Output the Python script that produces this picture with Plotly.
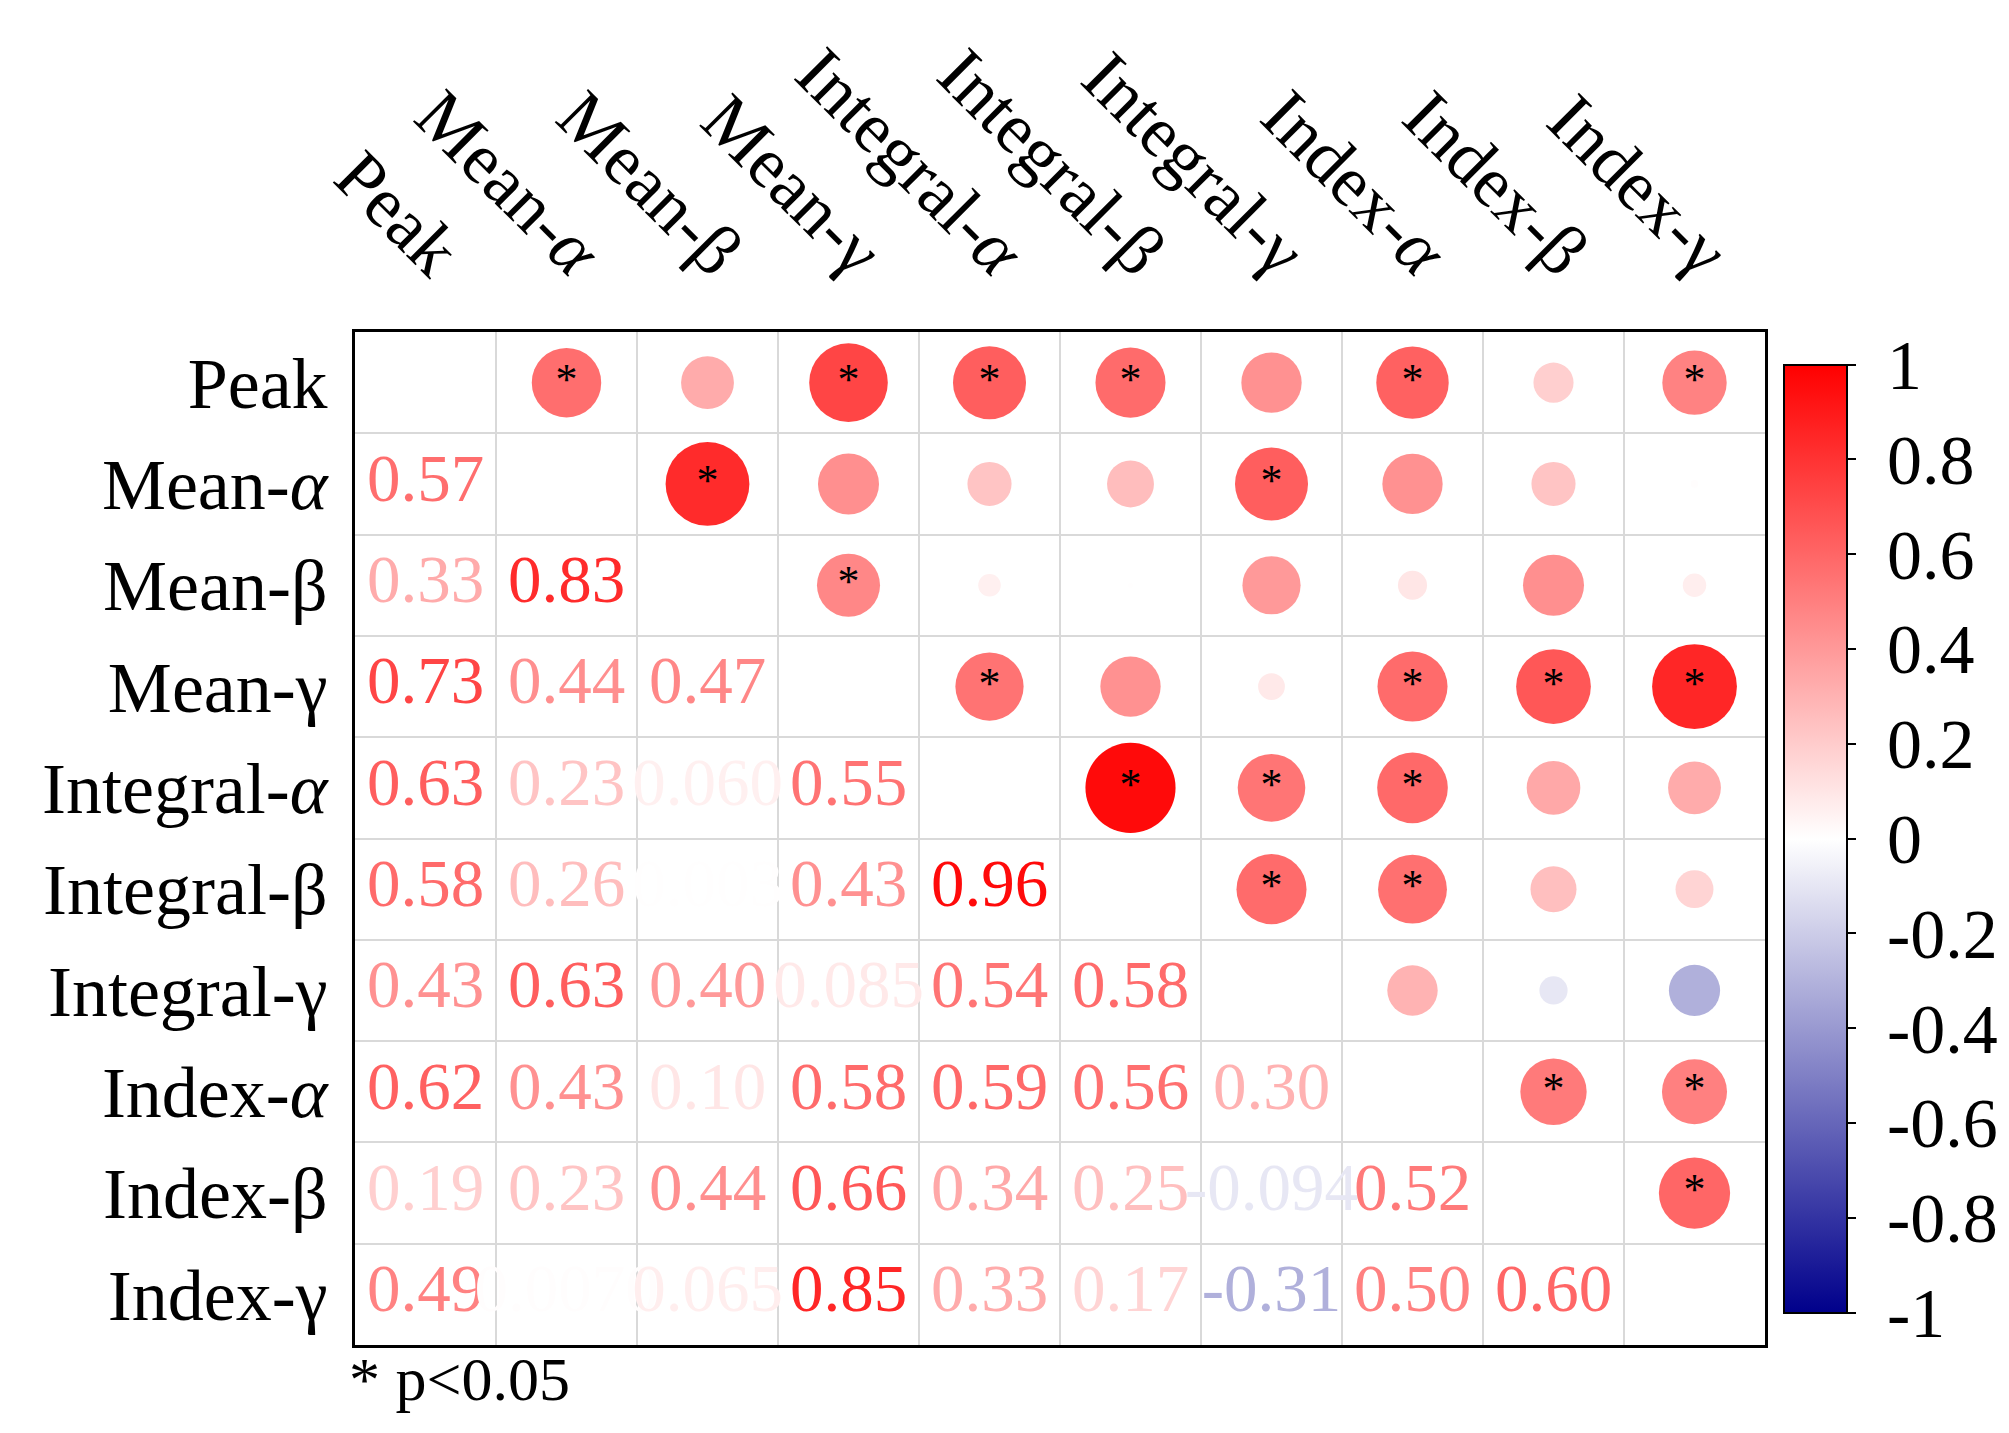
import plotly.graph_objects as go
import numpy as np

# ---------------- data ----------------
labels = ["Peak", "Mean-<i>α</i>", "Mean-β", "Mean-γ", "Integral-<i>α</i>", "Integral-β",
          "Integral-γ", "Index-<i>α</i>", "Index-β", "Index-γ"]

# lower-triangle correlations, row by row (row i has i values for columns 0..i-1)
r_mean_a = [0.57]
r_mean_b = [0.33, 0.83]
r_mean_g = [0.73, 0.44, 0.47]
r_int_a = [0.63, 0.23, 0.060, 0.55]
r_int_b = [0.58, 0.26, 0.003, 0.43, 0.96]
r_int_g = [0.43, 0.63, 0.40, 0.085, 0.54, 0.58]
r_idx_a = [0.62, 0.43, 0.10, 0.58, 0.59, 0.56, 0.30]
r_idx_b = [0.19, 0.23, 0.44, 0.66, 0.34, 0.25, -0.094, 0.52]
r_idx_g = [0.49, 0.0070, 0.065, 0.85, 0.33, 0.17, -0.31, 0.50, 0.60]

# text as printed in the lower triangle
t_mean_a = ["0.57"]
t_mean_b = ["0.33", "0.83"]
t_mean_g = ["0.73", "0.44", "0.47"]
t_int_a = ["0.63", "0.23", "0.060", "0.55"]
t_int_b = ["0.58", "0.26", "0.003", "0.43", "0.96"]
t_int_g = ["0.43", "0.63", "0.40", "0.085", "0.54", "0.58"]
t_idx_a = ["0.62", "0.43", "0.10", "0.58", "0.59", "0.56", "0.30"]
t_idx_b = ["0.19", "0.23", "0.44", "0.66", "0.34", "0.25", "-0.094", "0.52"]
t_idx_g = ["0.49", "0.0070", "0.065", "0.85", "0.33", "0.17", "-0.31", "0.50", "0.60"]

# significance (p<0.05) flags, same layout
s_mean_a = [1]
s_mean_b = [0, 1]
s_mean_g = [1, 0, 1]
s_int_a = [1, 0, 0, 1]
s_int_b = [1, 0, 0, 0, 1]
s_int_g = [0, 1, 0, 0, 1, 1]
s_idx_a = [1, 0, 0, 1, 1, 1, 0]
s_idx_b = [0, 0, 0, 1, 0, 0, 0, 1]
s_idx_g = [1, 0, 0, 1, 0, 0, 0, 1, 1]

colorbar_ticks = [1, 0.8, 0.6, 0.4, 0.2, 0, -0.2, -0.4, -0.6, -0.8, -1]
colorbar_ticktext = ["1", "0.8", "0.6", "0.4", "0.2", "0", "-0.2", "-0.4", "-0.6", "-0.8", "-1"]

# ---------------- build ----------------
rows_r = [r_mean_a, r_mean_b, r_mean_g, r_int_a, r_int_b, r_int_g, r_idx_a, r_idx_b, r_idx_g]
rows_t = [t_mean_a, t_mean_b, t_mean_g, t_int_a, t_int_b, t_int_g, t_idx_a, t_idx_b, t_idx_g]
rows_s = [s_mean_a, s_mean_b, s_mean_g, s_int_a, s_int_b, s_int_g, s_idx_a, s_idx_b, s_idx_g]

n = len(labels)
FONT = "Liberation Serif"

def cmap(v):
    # darkblue -> white -> red
    if v >= 0:
        a = v
        c = (255, 255 * (1 - a), 255 * (1 - a))
    else:
        a = -v
        c = (255 * (1 - a), 255 * (1 - a), 255 - (255 - 139) * a)
    return "rgb(%d,%d,%d)" % tuple(round(x) for x in c)

colorscale = [[0, "#00008B"], [0.5, "#FFFFFF"], [1, "#FF0000"]]

# lower triangle text
lx, ly, lt, lc = [], [], [], []
# upper triangle circles
ux, uy, uv, us = [], [], [], []
sx, sy = [], []
for i in range(1, n):
    for j in range(i):
        v = rows_r[i - 1][j]
        lx.append(j); ly.append(i); lt.append(rows_t[i - 1][j]); lc.append(cmap(v))
        ux.append(i); uy.append(j); uv.append(v)
        us.append(92 * np.sqrt(abs(v)))
        if rows_s[i - 1][j]:
            sx.append(i); sy.append(j)

fig = go.Figure()

fig.add_trace(go.Scatter(
    x=ux, y=uy, mode="markers",
    marker=dict(size=us, sizemode="diameter", color=uv, colorscale=colorscale,
                cmin=-1, cmax=1, line=dict(width=0), opacity=1,
                colorbar=dict(
                    x=1.0135, xanchor="left", xref="paper", xpad=0, ypad=0,
                    y=0.5, yanchor="middle",
                    lenmode="pixels", len=948, thickness=63, thicknessmode="pixels",
                    outlinecolor="black", outlinewidth=2,
                    tickvals=colorbar_ticks,
                    ticktext=["\u00a0" + t for t in colorbar_ticktext],
                    ticks="outside", ticklen=8, tickcolor="black", tickwidth=2,
                    tickfont=dict(family=FONT, size=70, color="black"),
                )),
    hoverinfo="skip", showlegend=False,
))

fig.add_trace(go.Scatter(
    x=sx, y=sy, mode="text", text=["*"] * len(sx),
    textposition="middle center",
    textfont=dict(family=FONT, size=44, color="black"),
    hoverinfo="skip", showlegend=False,
))

fig.add_trace(go.Scatter(
    x=lx, y=ly, mode="text", text=lt,
    textposition="middle center",
    textfont=dict(family=FONT, size=67, color=lc),
    hoverinfo="skip", showlegend=False,
))

bounds = [k + 0.5 for k in range(-1, n)]

fig.update_xaxes(
    range=[-0.5, n - 0.5], side="top",
    tickvals=list(range(n)), ticktext=labels, tickangle=45,
    tickfont=dict(family=FONT, size=72, color="black"),
    ticks="", showgrid=False, zeroline=False,
    showline=True, mirror=True, linecolor="black", linewidth=3,
    minor=dict(tickvals=bounds, showgrid=True, gridcolor="#D9D9D9", gridwidth=2, ticks=""),
    ticklabelstandoff=10, ticklabelshift=30,
)
fig.update_yaxes(
    range=[n - 0.5, -0.5],
    tickvals=list(range(n)), ticktext=labels,
    tickfont=dict(family=FONT, size=72, color="black"),
    ticks="", showgrid=False, zeroline=False,
    showline=True, mirror=True, linecolor="black", linewidth=3,
    minor=dict(tickvals=bounds, showgrid=True, gridcolor="#D9D9D9", gridwidth=2, ticks=""),
    ticklabelstandoff=10,
)

fig.add_annotation(
    xref="paper", yref="paper", x=0, y=0, xanchor="left", yanchor="top",
    xshift=-8, yshift=2, showarrow=False,
    text="* p<0.05", font=dict(family=FONT, size=62, color="black"),
)

fig.update_layout(
    width=2009, height=1433,
    margin=dict(l=347, r=252, t=324, b=96, pad=0),
    paper_bgcolor="white", plot_bgcolor="white",
)

fig.write_html("out.html")
